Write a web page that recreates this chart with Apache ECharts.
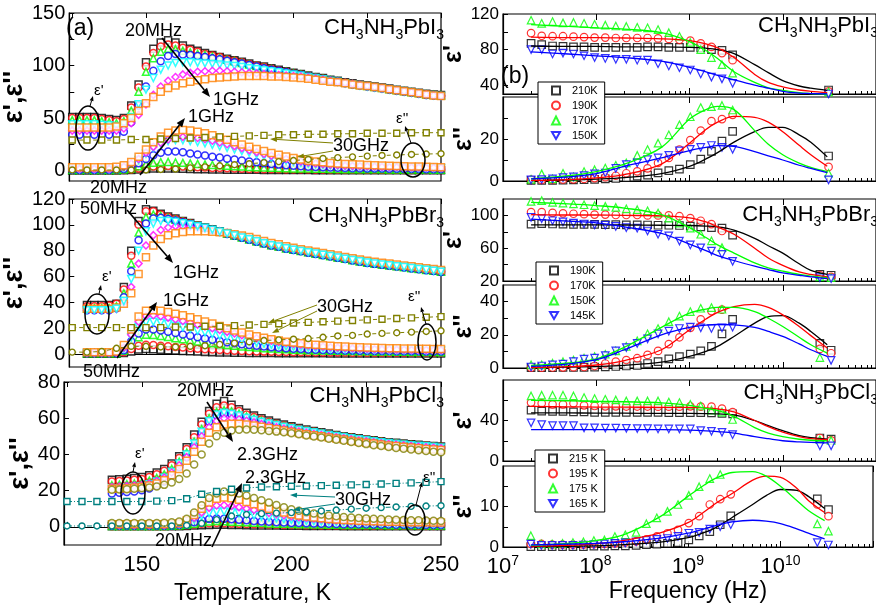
<!DOCTYPE html>
<html><head><meta charset="utf-8">
<script src="https://cdn.jsdelivr.net/npm/echarts@6/dist/echarts.min.js"></script>
<style>html,body{margin:0;padding:0;background:#fff}#c{width:876px;height:606px}</style>
</head><body><div id="c"></div>
<script>
// ---------------- DATA ----------------
// (a) temperature panels
const T_I = [125,127.5,130,132.5,135,137.5,140,142.5,145,147.5,150,152.5,155,157.5,160,162.5,165,167.5,170,172.5,175,177.5,180,182.5,185,187.5,190,192.5,195,197.5,200,202.5,205,207.5,210,212.5,215,217.5,220,222.5,225,227.5,230,232.5,235,237.5,240,242.5,245,247.5,250];
const T_B = [130,132.5,135,137.5,140,142.5,145,147.5,150,152.5,155,157.5,160,162.5,165,167.5,170,172.5,175,177.5,180,182.5,185,187.5,190,192.5,195,197.5,200,202.5,205,207.5,210,212.5,215,217.5,220,222.5,225,227.5,230,232.5,235,237.5,240,242.5,245,247.5,250];
const T_C = [140,142.5,145,147.5,150,152.5,155,157.5,160,162.5,165,167.5,170,172.5,175,177.5,180,182.5,185,187.5,190,192.5,195,197.5,200,202.5,205,207.5,210,212.5,215,217.5,220,222.5,225,227.5,230,232.5,235,237.5,240,242.5,245,247.5,250];
const T_30 = [125,130,135,140,145,150,155,160,165,170,175,180,185,190,195,200,205,210,215,220,225,230,235,240,245,250];

// PbI3 eps'
const I1_k = [51,51,51,51,50,49, 48,50,62,82,103, 116,122,124,122,119, 116,114,112,110,108, 106.5,105,103.5,102,100, 99,97.5,96,94.5,93, 92,90.5,89,88,86.5, 85.5,84,83,82,81, 80,79,78,77,76, 75,74,73,72.5,72];
const I1_r = [50,50,50,50,49,48, 47,49,60,79,99, 112,118,120,119,117, 115,113,111,109.5,108, 106,104.5,103,101.5,100, 98.5,97,95.5,94,92.5, 91.5,90,88.5,87.5,86, 85,83.5,82.5,81.5,80.5, 79.5,78.5,77.5,76.5,75.5, 74.5,73.5,72.5,72,71.5];
const I1_g = [48,48,48,48,47,46, 45,47,57,75,94, 107,113,116,115.5,114, 112.5,111,110,108.5,107, 105.5,104,102.5,101,99.5, 98,96.5,95,94,92.5, 91.5,90,88.5,87.5,86, 85,83.5,82.5,81.5,80.5, 79.5,78.5,77.5,76.5,75.5, 74.5,73.5,72.5,72,71.5];
const I1_b = [34,34,34,34,34,34, 34,37,46,62,80, 95,104,109,111,110.5, 110,109,108,107,106, 104.5,103,102,100.5,99, 97.5,96,95,93.5,92, 91,89.5,88,87,85.5, 84.5,83,82,81,80, 79,78,77,76,75, 74,73,72,71.5,71];
const I1_c = [44,44,44,44,43.5,43, 42.5,44,51,63,77, 88,96,100,102.5,103, 103,102.5,102,101.5,101, 100,99.5,98.5,97.5,96.5, 95.5,94.5,93.5,92.5,91.5, 90.5,89,88,87,85.5, 84.5,83,82,81,80, 79,78,77,76,75, 74,73,72,71.5,71];
const I1_m = [38,38,38,38,38,38, 38,40,45,53,63, 72,80,85.5,89,91.5, 93,94,94.5,95,95, 94.5,94,93.5,93,92.5, 92,91.5,91,90.5,90, 89.5,88.5,87.5,86.5,85.5, 84.5,83.5,82.5,81.5,80.5, 79.5,78.5,77.5,76.5,75.5, 74.5,73.5,72.5,71.5,71];
const I1_o = [41,41,41,41,41,41, 42,45,50,57,64, 70,75,78.5,81,83, 84.5,86,87,88,88.5, 89,89.5,90,90,90, 90,89.5,89.5,89,88.5, 88,87.5,86.5,85.5,84.5, 84,83,82,81,80.5, 79.5,78.5,77.5,76.5,75.5, 74.5,73.5,72.5,71.5,71];
// PbI3 eps''
const I2_k = [0,0,0,0,0,0, 0,0.2,0.5,1,1.5, 2,2,2,1.8,1.6, 1.4,1.2,1.1,1,0.9, 0.8,0.7,0.7,0.6,0.6, 0.5,0.5,0.5,0.4,0.4, 0.4,0.4,0.3,0.3,0.3, 0.3,0.3,0.3,0.2,0.2, 0.2,0.2,0.2,0.2,0.2, 0.2,0.2,0.2,0.2,0.2];
const I2_r = [0.3,0.3,0.3,0.3,0.3,0.3, 0.3,0.5,1,2,3, 3.8,4.2,4.3,4,3.7, 3.4,3.1,2.8,2.5,2.3, 2.1,1.9,1.7,1.5,1.4, 1.3,1.2,1.1,1,1, 0.9,0.9,0.8,0.8,0.8, 0.7,0.7,0.7,0.7,0.6, 0.6,0.6,0.6,0.6,0.5, 0.5,0.5,0.5,0.5,0.5];
const I2_g = [0.5,0.5,0.5,0.5,0.5,0.5, 0.5,1,2,4,6, 7.3,8,8.2,7.8,7.3, 6.8,6.3,5.8,5.3,4.9, 4.5,4.1,3.7,3.4,3.1, 2.8,2.6,2.4,2.2,2, 1.9,1.8,1.7,1.6,1.5, 1.4,1.3,1.3,1.2,1.2, 1.1,1.1,1,1,1, 0.9,0.9,0.9,0.8,0.8];
const I2_b = [0.5,0.5,0.5,0.5,0.5,0.5, 0.7,1.5,3.5,7,11, 14.5,17,18,18,17.3, 16.3,15.2,14.2,13.2,12.3, 11.3,10.4,9.5,8.6,7.8, 7,6.3,5.6,5,4.5, 4,3.6,3.3,3,2.8, 2.6,2.4,2.2,2.1,2, 1.9,1.8,1.7,1.6,1.5, 1.4,1.4,1.3,1.3,1.2];
const I2_c = [1,1,1,1,1,1, 1.3,2.5,5,10,16, 21.5,25.5,28,29,28.8, 28,27,25.8,24.4,23, 21.5,20,18.4,16.8,15.2, 13.6,12.1,10.7,9.4,8.2, 7.2,6.4,5.7,5.1,4.6, 4.2,3.9,3.6,3.4,3.2, 3,2.8,2.7,2.6,2.5, 2.4,2.3,2.2,2.1,2];
const I2_m = [1.5,1.5,1.5,1.5,1.5,1.5, 2,3.5,6.5,11,17, 22.5,26.5,29.5,31.3,32, 31.8,31,29.8,28.3,26.7, 25,23.2,21.3,19.4,17.5, 15.7,14,12.4,11,9.7, 8.6,7.6,6.8,6.1,5.5, 5,4.6,4.3,4,3.8, 3.6,3.4,3.2,3.1,3, 2.9,2.8,2.7,2.6,2.5];
const I2_o = [3,3,3,3,3,3, 3.5,5,8,13,20, 27,32.5,36,38,38.5, 38,37,35.5,33.5,31.5, 29.3,27,24.8,22.6,20.5, 18.5,16.7,15,13.3,11.8, 10.5,9.4,8.5,7.8,7.2, 6.7,6.3,5.9,5.6,5.3, 5,4.7,4.5,4.3,4.1, 3.9,3.7,3.5,3.3,3.2];
const I30_1 = [29,29,29,29,29.5,29.5,30,30.5,31,31.5,32,32.5,33,33.5,34,34,34.5,34.5,35,35,35.5,35.5,35.5,36,36,36];
const I30_2 = [0.5,0.5,0.5,0.5,0.5,0.5,1,1.5,2.5,3.5,4.5,5.5,6.5,7.5,8.5,9.5,10.5,11.5,12.3,13,13.7,14.3,14.8,15.3,15.7,16];

// PbBr3 eps'
const B1_k = [38,38,38,38, 39,52,80,103,112, 111,108.5,106.5,105,103, 101.5,99.5,98,96.5,95, 93.5,92,90.5,89,87.5, 86,84.5,83.5,82,81, 80,79,78,77,76, 75,74,73,72,71, 70.3,69.6,68.9,68.2,67.5, 66.8,66.1,65.4,64.7,64];
const B1_r = [37,37,37,37.5, 39,50,76,100,110.5, 110.5,108,106,104.5,102.8, 101.2,99.3,97.8,96.3,94.8, 93.3,91.8,90.3,88.8,87.3, 85.8,84.3,83.3,81.8,80.8, 79.8,78.8,77.8,76.8,75.8, 74.8,73.8,72.8,71.8,70.8, 70.1,69.4,68.7,68,67.3, 66.6,65.9,65.2,64.5,63.8];
const B1_g = [35.5,35.5,35.5,35.5, 37,47,70,94,106, 108,107,105.5,104,102.5, 101,99.2,97.7,96.2,94.7, 93.2,91.7,90.2,88.7,87.2, 85.7,84.2,83.2,81.7,80.7, 79.7,78.7,77.7,76.7,75.7, 74.7,73.7,72.7,71.7,70.7, 70,69.3,68.6,67.9,67.2, 66.5,65.8,65.1,64.4,63.7];
const B1_b = [34,34,34,34, 35.5,44,64,88,101, 105,105.5,104.5,103.3,102, 100.7,99,97.5,96,94.5, 93,91.5,90,88.5,87, 85.5,84,83,81.5,80.5, 79.5,78.5,77.5,76.5,75.5, 74.5,73.5,72.5,71.5,70.5, 69.8,69.1,68.4,67.7,67, 66.3,65.6,64.9,64.2,63.5];
const B1_c = [34,34,34,34, 35,41,58,80,95, 101,103,103,102.3,101.3, 100.2,99,97.7,96.3,94.8, 93.3,91.8,90.3,88.8,87.3, 85.8,84.3,83.3,81.8,80.8, 79.8,78.8,77.8,76.8,75.8, 74.8,73.8,72.8,71.8,70.8, 70.1,69.4,68.7,68,67.3, 66.6,65.9,65.2,64.5,63.8];
const B1_m = [34,34,34,34, 35,40,52,70,84, 92,96,98,99,99, 98.5,97.8,97,96,95, 93.8,92.5,91,89.5,88, 86.5,85,84,82.5,81.5, 80.5,79.5,78.5,77.5,76.5, 75.5,74.5,73.5,72.5,71.5, 70.8,70.1,69.4,68.7,68, 67.3,66.6,65.9,65.2,64.5];
const B1_o = [35,35,35,35, 36,39,47,62,75, 84,89,92,93.5,94.5, 95,95,95,94.7,94.3, 93.6,92.8,91.7,90.5,89, 87.5,86,85,83.5,82.3, 81.2,80.2,79.2,78.2,77.2, 76.2,75.2,74.2,73.2,72.2, 71.4,70.7,70,69.3,68.6, 67.9,67.2,66.5,65.8,65.1];
// PbBr3 eps''
const B2_k = [0.3,0.3,0.3,0.3, 0.3,0.8,2,3.5,4, 3.8,3.4,3,2.7,2.4, 2.1,1.9,1.7,1.5,1.3, 1.2,1.1,1,0.9,0.9, 0.8,0.8,0.7,0.7,0.7, 0.6,0.6,0.6,0.6,0.5, 0.5,0.5,0.5,0.5,0.5, 0.4,0.4,0.4,0.4,0.4, 0.4,0.4,0.4,0.4,0.4];
const B2_r = [0.5,0.5,0.5,0.5, 0.5,1.5,4,6.5,7.3, 7,6.5,6,5.5,5, 4.6,4.2,3.8,3.5,3.2, 2.9,2.6,2.4,2.2,2, 1.9,1.8,1.7,1.6,1.5, 1.4,1.4,1.3,1.3,1.2, 1.2,1.2,1.1,1.1,1.1, 1.1,1,1,1,1, 1,1,1,1,1];
const B2_g = [0.6,0.6,0.6,0.6, 0.6,2.5,8,13,15, 14.8,14,13.2,12.3,11.4, 10.6,9.8,9,8.3,7.6, 7,6.4,5.9,5.4,5, 4.6,4.3,4,3.7,3.4, 3.2,3,2.8,2.7,2.6, 2.5,2.4,2.3,2.2,2.1, 2,1.9,1.9,1.8,1.8, 1.7,1.7,1.6,1.6,1.5];
const B2_b = [0.7,0.7,0.7,0.7, 0.7,3,10,16,19, 19,18.3,17.3,16.3,15.2, 14.1,13,12,11,10.1, 9.2,8.4,7.7,7,6.4, 5.8,5.3,4.9,4.5,4.2, 3.9,3.6,3.4,3.2,3, 2.9,2.8,2.7,2.6,2.5, 2.4,2.3,2.3,2.2,2.2, 2.1,2.1,2,2,2];
const B2_c = [0.8,0.8,0.8,0.8, 0.8,4,13,21,24.5, 25,24.3,23.2,22,20.7, 19.4,18,16.7,15.4,14.1, 12.9,11.8,10.7,9.7,8.8, 8,7.2,6.6,6,5.5, 5.1,4.7,4.4,4.1,3.9, 3.7,3.5,3.3,3.2,3.1, 3,2.9,2.8,2.8,2.7, 2.7,2.6,2.6,2.5,2.5];
const B2_m = [1,1,1,1, 1,5,15,25,29.5, 30,29.3,28.2,27,25.6, 24.2,22.8,21.4,20,18.6, 17.2,15.9,14.6,13.4,12.3, 11.3,10.3,9.4,8.6,7.9, 7.3,6.7,6.2,5.8,5.4, 5,4.7,4.4,4.2,4, 3.8,3.6,3.5,3.4,3.3, 3.2,3.1,3.1,3,3];
const B2_o = [1.5,1.5,1.5,1.5, 2,7,19,29,33.5, 34,33.5,32.5,31.3,30, 28.5,27,25.3,23.6,21.8, 20,18.3,16.7,15.2,13.8, 12.6,11.5,10.5,9.6,8.9, 8.3,7.7,7.2,6.8,6.4, 6.1,5.8,5.5,5.3,5.1, 4.9,4.7,4.6,4.5,4.4, 4.3,4.2,4.1,4,3.9];
const B30_1 = [20.5,20.5,20.5,20.5,20.5,20.5,20.5,21,21,21.5,21.5,22,22.5,23,23.5,24,24.5,25,25.5,26,26.5,27,27.5,28,28.5,29];
const B30_2 = [1.5,1.5,2,4.5,6,6,5.5,5.5,6,6.5,7.5,8.5,9.5,10.5,11,11.5,12,13,14,14.5,15.5,16,16.5,17,17.5,18];

// PbCl3 eps'
const C1_k = [26,26.3,26.6,27,27.5, 28.5,30,32,35,39, 44,51,58,64,68, 69.5,67.5,65,63,61.5, 60,58.7,57.5,56.5,55.5, 54.6,53.8,53,52.2,51.5, 50.8,50.1,49.5,48.9,48.3, 47.8,47.3,46.8,46.4,46, 45.6,45.3,45,44.7,44.4];
const C1_r = [25,25.3,25.6,26,26.5, 27.5,29,31,34,38, 43,49.5,56.5,62.5,66, 67,66,64,62,60.7, 59.3,58,57,56,55, 54.2,53.4,52.6,51.9,51.2, 50.5,49.9,49.3,48.7,48.1, 47.6,47.1,46.6,46.2,45.8, 45.4,45.1,44.8,44.5,44.2];
const C1_g = [23,23.3,23.6,24,24.5, 25.5,27,29,32,36, 41,47,54,60,63.5, 64.5,63.8,62.5,61,59.8, 58.6,57.5,56.5,55.5,54.6, 53.8,53,52.3,51.6,50.9, 50.3,49.7,49.1,48.5,47.9, 47.4,46.9,46.4,46,45.6, 45.2,44.9,44.6,44.3,44];
const C1_b = [18.5,18.8,19.2,19.6,20.2, 21.2,22.7,25,28.5,33, 38.5,45,52,58,61.5, 62.5,62,61,59.8,58.7, 57.6,56.6,55.7,54.8,54, 53.2,52.5,51.8,51.1,50.4, 49.8,49.2,48.6,48,47.4, 46.9,46.4,45.9,45.5,45.1, 44.7,44.4,44.1,43.8,43.5];
const C1_c = [21,21.3,21.6,22,22.5, 23.5,25,27.3,30.5,35, 40,46,52.5,58.5,62, 63,62.5,61.5,60.3,59.2, 58.1,57.1,56.2,55.3,54.4, 53.6,52.9,52.2,51.5,50.8, 50.2,49.6,49,48.4,47.8, 47.3,46.8,46.3,45.9,45.5, 45.1,44.8,44.5,44.2,43.9];
const C1_m = [22,22.2,22.5,22.8,23.2, 24,25.3,27.2,30,34, 38.5,44,50,55,58.5, 60,60,59.4,58.6,57.7, 56.8,55.9,55,54.2,53.4, 52.7,52,51.3,50.7,50.1, 49.5,48.9,48.3,47.7,47.2, 46.7,46.2,45.8,45.4,45, 44.6,44.3,44,43.7,43.4];
const C1_o = [21,21.2,21.4,21.7,22.1, 22.8,24,25.8,28.5,32, 36.5,41.5,47,52,55, 56.5,57,57,56.6,56, 55.3,54.6,53.9,53.2,52.5, 51.8,51.2,50.6,50,49.4, 48.8,48.2,47.6,47,46.5, 46,45.5,45,44.6,44.2, 43.8,43.4,43,42.7,42.4];
const C1_ol = [20.5,20.6,20.8,21,21.3, 21.7,22.3,23.2,24.5,26.5, 29.5,34.5,40,46,50, 52,53.2,53.7,53.8,53.6, 53.3,53,52.6,52.2,51.7, 51.1,50.5,49.9,49.3,48.7, 48.1,47.5,46.9,46.3,45.7, 45.1,44.6,44.1,43.6,43.1, 42.7,42.3,41.9,41.5,41.2];
// PbCl3 eps''
const C2_k = [0.3,0.3,0.3,0.3,0.3, 0.3,0.3,0.3,0.3,0.4, 0.5,0.7,0.9,1.1,1.2, 1.2,1.1,1,0.9,0.8, 0.8,0.7,0.7,0.6,0.6, 0.6,0.5,0.5,0.5,0.5, 0.5,0.4,0.4,0.4,0.4, 0.4,0.4,0.4,0.4,0.4, 0.4,0.4,0.4,0.4,0.4];
const C2_r = [0.4,0.4,0.4,0.4,0.4, 0.4,0.4,0.4,0.5,0.6, 0.9,1.3,1.7,2,2.1, 2,1.9,1.7,1.6,1.5, 1.4,1.3,1.2,1.1,1, 1,0.9,0.9,0.8,0.8, 0.8,0.7,0.7,0.7,0.7, 0.6,0.6,0.6,0.6,0.6, 0.6,0.6,0.5,0.5,0.5];
const C2_g = [0.5,0.5,0.5,0.5,0.5, 0.5,0.5,0.5,0.6,0.8, 1.2,1.8,2.5,3,3.2, 3.1,2.9,2.7,2.5,2.3, 2.1,1.9,1.8,1.7,1.6, 1.5,1.4,1.3,1.3,1.2, 1.2,1.1,1.1,1,1, 1,1,0.9,0.9,0.9, 0.9,0.9,0.8,0.8,0.8];
const C2_b = [0.6,0.6,0.6,0.6,0.6, 0.6,0.6,0.6,0.7,1, 1.6,2.6,3.6,4.3,4.6, 4.5,4.2,3.9,3.6,3.3, 3,2.8,2.6,2.4,2.2, 2.1,2,1.9,1.8,1.7, 1.6,1.5,1.5,1.4,1.4, 1.3,1.3,1.3,1.2,1.2, 1.2,1.2,1.1,1.1,1.1];
const C2_c = [0.8,0.8,0.8,0.8,0.8, 0.8,0.8,0.8,0.9,1.3, 2.3,4,6,7.6,8.4, 8.5,8.1,7.5,6.9,6.3, 5.7,5.2,4.7,4.3,3.9, 3.6,3.3,3.1,2.9,2.7, 2.5,2.4,2.3,2.2,2.1, 2,1.9,1.9,1.8,1.8, 1.7,1.7,1.7,1.6,1.6];
const C2_m = [1,1,1,1,1, 1,1,1,1.1,1.6, 2.8,5,8,10.5,11.8, 12,11.6,10.9,10.1,9.3, 8.5,7.7,7,6.4,5.8, 5.3,4.9,4.5,4.2,3.9, 3.6,3.4,3.2,3,2.9, 2.8,2.7,2.6,2.5,2.4, 2.3,2.3,2.2,2.2,2.1];
const C2_o = [1.5,1.5,1.5,1.5,1.5, 1.5,1.5,1.5,1.6,2, 3.5,6.5,10,13.5,15.5, 16.2,15.8,15,13.8,12.5, 11.2,10,8.9,7.9,7, 6.3,5.7,5.2,4.8,4.4, 4.1,3.8,3.6,3.4,3.2, 3.1,3,2.9,2.8,2.7, 2.6,2.5,2.5,2.4,2.4];
const C2_ol = [2.2,2.2,2.2,2.2,2.2, 2.2,2.2,2.3,2.5,3, 4.5,8,12,16,18.5, 19.5,19.3,18.5,17.3,16, 14.7,13.4,12.1,10.9,9.8, 8.9,8.1,7.4,6.8,6.3, 5.9,5.5,5.2,4.9,4.7, 4.5,4.3,4.1,3.9,3.8, 3.7,3.6,3.5,3.4,3.3];
const C30_1 = [14,14,14,14,14,14,14.2,14.5,15.5,18,19.5,20.8,21.5,22,22.2,22.4,22.6,22.8,23,23.2,23.4,23.7,24,24.3,24.6,25];
const C30_2 = [0.5,0.5,0.5,0.5,0.5,0.5,0.5,0.5,0.8,2,4,6,6.8,7.3,7.6,7.9,8.3,8.8,9.3,9.8,10.3,10.7,11,11.3,11.5,11.7];

// (b) frequency panels
const F_LOW = [2e7,2.6e7,3.4e7,4.4e7,5.7e7,7.4e7,9.6e7,1.25e8,1.62e8,2.1e8,2.75e8,3.55e8,4.6e8,6e8,7.8e8,1.02e9,1.32e9,1.72e9,2.23e9,2.9e9];
const F_HI_I = [3.1e10];
const F_HI = [2.5e10,3.3e10];
const F_FIT = [2e7,5e7,1e8,2e8,5e8,1e9,1.5e9,2e9,3e9,5e9,7e9,1e10,1.5e10,2e10,3e10];
const TEMPS_I = ['210K','190K','170K','150K'];
const TEMPS_B = ['190K','170K','150K','145K'];
const TEMPS_C = ['215 K','195 K','175 K','165 K'];

const RI1 = [[87,85.5,84,83.5,83,83,82.5,82.5,82.5,82.5,82.5,83,83,82.5,82.5,82.5,82,80,79,74,34.5],
             [98.5,95.5,95,95,94.5,94,93.5,93.5,93,93,93,93,92.5,92,91,90,87,83,76,68,33],
             [113,109.5,111.5,110,110.5,109.5,108.5,107.5,106.5,106,105,104.5,102.5,99,95,88,80,71,63,53.5,32.5],
             [80,80,75,76,75,73,71,70,69,69,68,68,64,61.5,59.5,57,52.5,49,47,42,30]];
const RI2 = [[0.3,0.3,0.3,0.4,0.5,0.6,0.8,1,1.2,1.6,2.3,2.8,3.9,4.9,5.7,7.8,10.4,14.1,19,23.6,11.9],
             [0.5,0.5,0.5,0.7,0.8,1,1.4,1.8,2.5,3.7,4.6,6,8.6,11,15,19.5,24,28.5,29.5,31.5,6.7],
             [0.8,3.4,1,3.7,2,4.5,5.4,6.2,7.5,8.6,12.2,15,18,22,26.8,30.6,35,35.4,36,33.8,3.7],
             [0.5,0.7,1,1.6,2,2.6,3.4,3.8,6,7.8,8.6,10.2,11,12.2,14.3,15.1,16,16.9,16,15.1,0.5]];
const RI1F = [[84,83.5,83.5,83,83,82.5,81.5,80,75.5,63,54,45,39,36.5,34],
              [94,93.5,93.5,93,92,90,86.5,82,71,52,43,38,34.5,33,31.5],
              [108,106,104.5,103,99,89,79,70,55,43,37,34,31.5,30.5,29.5],
              [77.5,75,73,71,67,60,55,51,46,40,36.5,33,31,30.5,30]];
const RI2F = [[0.2,0.5,0.9,1.6,3.5,7,10.5,13.5,18.5,23.5,25.5,25.5,22,18.5,11.5],
              [0.3,0.7,1.5,3,8,18,24.5,28,30.8,30.3,28,23.5,17,12.5,7],
              [1,2.5,4.5,8,16,29.5,34,35.5,34,24,17.5,12.5,8.5,6.5,4.5],
              [1,2,3.5,7,11,14.5,16,16.8,16.5,14,12,10,7.5,6,4]];

const RB1 = [[89.3,90,89.5,89.3,89,89,89,88.8,88.7,88.5,88.5,88.3,88,88,87.7,87,86,85,84.4,76,28,27],
             [104,104,103,102.5,102,101.5,101,101,100.5,100.5,100.5,100,100,100,99,96.7,93.5,89.4,81,null,27,25],
             [117,118,116,115,114,113,112,111,109.7,108,107,105.7,102.8,96.7,90.5,84.4,77,69,60.7,null,25,24],
             [97.5,96,93.5,92,90.5,89.5,88.5,88,86.5,85,84.4,81,77,75,68.7,64,60.5,56.5,52.5,44,24,23]];
const RB2 = [[0.2,0.2,0.2,0.3,0.3,0.4,0.5,0.7,0.9,1.2,1.5,2.7,3.8,5.5,6.9,8.3,10.3,13,20.6,29.3,14.8,10.7],
             [0.2,0.2,0.3,0.4,0.5,0.6,1.2,2.7,3.8,4.8,5.9,7.9,10.3,14.4,18.5,24.2,29.3,34.3,35.2,null,11.5,8.9],
             [1.9,1.9,2.9,3.8,4.8,5.9,6.9,8.3,10.3,13,16.4,20.6,23.8,27.9,31.3,34,36,36.4,35.4,null,6.3,null],
             [0.6,1.2,1.9,2.3,3.8,5.3,5.9,7.5,10.3,12.3,14.8,17.6,20.6,22.2,23.8,24.6,24.2,23.8,24.2,24.6,null,4.6]];
const RB1F = [[88.5,88.5,88.5,88.3,88,87.7,87,86,82,72,63,54,41,33,28],
              [101,100.5,100.5,100,99.5,97,92,86,77,60,48,39,31,28,25],
              [116,114,112,109,101,85,73,64,54,42,36,32,28,26,24],
              [95.5,93,91,86,78,65,57,51,45,38,34,30,27,25,23]];
const RB2F = [[0.2,0.5,0.9,1.6,3.5,7,10,13,19,27,31,31.5,27,22,14],
              [0.3,0.8,1.8,4.5,11,23,29.5,33.5,37,38.3,36.5,32,25,19.5,12],
              [1.5,3,5.5,12.5,24.5,33,35.5,36.5,36.5,34,30,25,18.5,14,9],
              [1,2.5,5,11,20,24.5,25.8,26.2,26,24.5,22,19,14.5,11,7]];

const RC1 = [[50.3,49.3,49,49,48.5,48.5,48,48,48,48,48,48,48,47.7,47.7,47.7,47.7,47.5,47,46.5,22.7,21.7],
             [57.7,57,56,56,57,55,54.3,54,54,53.8,53.8,53.8,53.7,53.7,53.7,54,53.7,53.7,51.7,48.3,22.7,20.3],
             [64.3,65,65,65,64.3,62.7,61.7,61,60.3,59.3,59.3,59.3,59.3,58.3,57.7,56,54.3,50.3,48.3,41,21,20.3],
             [37.7,36,35,35,35,32.7,32.7,32.5,32.5,32.3,32,32,31.7,31.7,31.7,31.7,30,29.3,28.3,26,15,15]];
const RC2 = [[0.1,0.1,0.1,0.1,0.1,0.1,0.2,0.2,0.3,0.3,0.4,0.6,0.7,0.9,1.1,1.75,2.75,3.8,5.5,7.7,11.9,9.25],
             [0.75,0.75,0.6,0.6,0.6,0.6,0.7,0.75,0.9,1.1,1.4,1.9,2.6,3.4,4.25,5.9,7.6,10.5,11.8,13,10.5,7.6],
             [2.8,0.75,0.75,0.9,1.1,1.3,1.6,1.75,2.6,3,3.6,5.75,7.2,8.8,10.5,12.75,14.9,16.9,17.9,null,5.7,3.9],
             [0.7,0.4,0.4,0.4,0.4,0.5,0.6,0.75,0.9,1,1.3,1.6,1.9,2.1,2.6,3.4,3.6,4.4,5,5.5,1.1,0.5]];
const RC1F = [[47.5,47.5,47.3,47.2,47,47,46.8,46.5,45.5,40,35,30,25,23,21.5],
              [54,53.5,53.3,53.2,53,53,52.5,51.5,48.5,40,34,28.5,24,22,21],
              [60,59.5,59,58.5,57.5,55,52,50,44,33,27.5,24,21.5,20.5,20],
              [31,31,31,31,31,30.5,29.8,29,27.5,24,22,20,18.8,18.3,18]];
const RC2F = [[0.1,0.15,0.3,0.6,1.2,2.3,3.6,4.8,7.3,10.5,12.7,14.2,14,12.5,9.5],
              [0.2,0.4,0.8,1.6,3.5,6,8.7,10.8,13.2,16.5,17.5,17.2,14.5,11.5,8.5],
              [0.4,0.9,1.6,3,7.5,12.5,15.3,17,18.4,18.6,17.5,15,11.5,9,6.5],
              [0.5,0.7,0.9,1.3,2.2,3.4,4.5,5.3,6.2,6.6,6.4,5.8,4.5,3.4,2]];

// axis tick / label values
const L_XTICKS = [125,150,175,200,225,250];
const L_XLABELS = [150,200,250];
const R_XMINOR = [2e7,3e7,4e7,5e7,6e7,7e7,8e7,9e7,2e8,3e8,4e8,5e8,6e8,7e8,8e8,9e8,2e9,3e9,4e9,5e9,6e9,7e9,8e9,9e9,2e10,3e10,4e10,5e10,6e10,7e10,8e10,9e10];

// ---------------- CHART ----------------
const FONT = 'Liberation Sans, Arial, sans-serif';
const COL = {k:'#000000', r:'#ff0000', g:'#00ff00', b:'#0000ff', c:'#00ffff', m:'#ff00ff', o:'#ff8000', ol:'#808000', t:'#008080'};
const SYM = {k:['rect',0], r:['circle',0], g:['triangle',0], b:['circle',0], c:['triangle',180], m:['diamond',0], o:['rect',0], ol:['circle',0]};
const RSYM = [['rect',0,'k'],['circle',0,'r'],['triangle',0,'g'],['triangle',180,'b']];
const DOWN_TRI = 'path://M0,0L10,0L5,8.66Z';

const grids = [
  {left:64, top:13, width:377, height:168},
  {left:64, top:199, width:377, height:168},
  {left:64, top:382, width:377, height:166},
  {left:503, top:14, width:373, height:80},
  {left:503, top:97, width:373, height:84},
  {left:503, top:199, width:373, height:82},
  {left:503, top:285, width:373, height:83},
  {left:503, top:380, width:373, height:81},
  {left:503, top:466, width:373, height:81}
].map(g => Object.assign(g, {show:true, borderColor:'#000', borderWidth:1.2, backgroundColor:'transparent'}));

const xAxes = [], yAxes = [];
const XB = [];
const tickStyle = {lineStyle:{color:'#000', width:1}};
function addX(gi, isLog, showLabel, name){
  const base = isLog ? {type:'log', logBase:10, min:1e7, max:1e11} : {type:'value', min:124, max:250};
  XB[gi] = xAxes.length;
  const lbl = isLog ? {
      show:showLabel, margin:7, color:'#000', fontFamily:FONT,
      formatter: v => { const e = Math.round(Math.log10(v)); return e > 10 ? '' : '{b|10}{s|' + e + '}'; },
      rich:{b:{fontSize:22, fontFamily:FONT, color:'#000'}, s:{fontSize:14, fontFamily:FONT, color:'#000', verticalAlign:'bottom', padding:[0,0,12,0]}}
    } : {show:showLabel, customValues:L_XLABELS, fontSize:22, margin:9, color:'#000', fontFamily:FONT};
  xAxes.push(Object.assign({}, base, {
    gridIndex:gi, position:'bottom', axisLine:{show:true, lineStyle:{color:'#000', width:1.2}},
    splitLine:{show:false},
    axisTick: isLog ? Object.assign({inside:true, length:6}, tickStyle) : Object.assign({inside:true, length:5, customValues:L_XTICKS}, tickStyle),
    axisLabel: lbl,
    name: name || '', nameLocation:'middle', nameGap: isLog ? 33 : 37,
    nameTextStyle:{fontSize:23, fontFamily:FONT, color:'#000'}
  }));
  xAxes.push(Object.assign({}, base, {
    gridIndex:gi, position:'top', axisLine:{show:false}, splitLine:{show:false}, axisLabel:{show:false},
    axisTick: isLog ? Object.assign({inside:true, length:6}, tickStyle) : Object.assign({inside:true, length:5, customValues:L_XTICKS}, tickStyle)
  }));
  if (isLog) {
    xAxes.push(Object.assign({}, base, {
      gridIndex:gi, position:'bottom', axisLine:{show:false}, splitLine:{show:false}, axisLabel:{show:false},
      axisTick: Object.assign({inside:true, length:3, customValues:R_XMINOR}, tickStyle)
    }));
  }
}
function addY(gi, min, max, labels, ticks, name, fs, nameGap){
  yAxes.push({
    type:'value', gridIndex:gi, min, max, axisLine:{show:true, lineStyle:{color:'#000', width:1.2}}, splitLine:{show:false},
    axisTick: Object.assign({inside:true, length:5, customValues:ticks}, tickStyle),
    axisLabel:{customValues:labels, fontSize:fs, margin:4, color:'#000', fontFamily:FONT},
    name, nameLocation:'middle', nameRotate:90, nameGap,
    nameTextStyle:{fontSize: fs === 20 ? 27 : 25, fontWeight:'bold', fontFamily:FONT, color:'#000'}
  });
}
addX(0,false,false); addX(1,false,false); addX(2,false,true,'Temperature, K');
for (let g=3; g<9; g++) addX(g, true, g===8, g===8 ? 'Frequency (Hz)' : '');
const EN = "\u03b5',\u03b5''";
addY(0,-10,150,[0,50,100,150],[0,25,50,75,100,125,150],EN,20,30);
addY(1,-10,120,[0,20,40,60,80,100,120],[0,20,40,60,80,100,120],EN,20,30);
addY(2,-10,80,[0,20,40,60,80],[0,20,40,60,80],EN,20,30);
addY(3,30,120,[40,80,120],[40,60,80,100,120],"\u03b5'",17,22);
addY(4,0,40,[0,20],[0,10,20,30],"\u03b5''",17,22);
addY(5,20,120,[20,60,100],[20,40,60,80,100],"\u03b5'",17,22);
addY(6,0,50,[0,20,40],[0,10,20,30,40],"\u03b5''",17,22);
addY(7,0,80,[0,40],[0,20,40,60],"\u03b5'",17,22);
addY(8,0,20,[0,10],[0,5,10,15],"\u03b5''",17,22);

const series = [];
function pairs(xs, ys){ const d=[]; for (let k=0;k<xs.length;k++){ if (ys[k]!=null) d.push([xs[k], ys[k]]); } return d; }
function scat(gi, xs, ys, color, sym, rot, size, bw, name){
  series.push({type:'scatter', name:name, xAxisIndex:XB[gi], yAxisIndex:gi, data:pairs(xs,ys),
    symbol:sym, symbolRotate:rot, symbolSize:size, silent:true,
    itemStyle:{color:'#fff', borderColor:color, borderWidth:bw}});
}
function fit(gi, xs, ys, color){
  series.push({type:'line', xAxisIndex:XB[gi], yAxisIndex:gi, data:pairs(xs,ys), symbol:'none', smooth:0.35, silent:true,
    lineStyle:{color:color, width:1.3}});
}
function hf(gi, xs, ys, color, sym, dash){
  series.push({type:'line', xAxisIndex:XB[gi], yAxisIndex:gi, data:pairs(xs,ys), symbol:sym, symbolSize:6, showSymbol:true, showAllSymbol:true, silent:true,
    itemStyle:{color:'#fff', borderColor:color, borderWidth:1.4}, lineStyle:{color:color, width:1, type:dash}, z:3});
}
function tempPanel(gi, T, sets){
  sets.forEach(s => scat(gi, T, s[1], COL[s[0]], SYM[s[0]][0], SYM[s[0]][1], 7, 1.5));
}
tempPanel(0, T_I, [['k',I1_k],['r',I1_r],['g',I1_g],['b',I1_b],['c',I1_c],['m',I1_m],['o',I1_o]]);
tempPanel(0, T_I, [['k',I2_k],['r',I2_r],['g',I2_g],['b',I2_b],['c',I2_c],['m',I2_m],['o',I2_o]]);
hf(0, T_30, I30_1, COL.ol, 'rect', [4,3]);
hf(0, T_30, I30_2, COL.ol, 'circle', [4,3]);
tempPanel(1, T_B, [['k',B1_k],['r',B1_r],['g',B1_g],['b',B1_b],['m',B1_m],['o',B1_o],['c',B1_c]]);
tempPanel(1, T_B, [['k',B2_k],['r',B2_r],['g',B2_g],['b',B2_b],['c',B2_c],['m',B2_m],['o',B2_o]]);
hf(1, T_30, B30_1, COL.ol, 'rect', [4,3]);
hf(1, T_30, B30_2, COL.ol, 'circle', [4,3]);
tempPanel(2, T_C, [['k',C1_k],['r',C1_r],['g',C1_g],['b',C1_b],['c',C1_c],['m',C1_m],['o',C1_o],['ol',C1_ol]]);
tempPanel(2, T_C, [['k',C2_k],['r',C2_r],['g',C2_g],['b',C2_b],['c',C2_c],['m',C2_m],['o',C2_o],['ol',C2_ol]]);
hf(2, T_30, C30_1, COL.t, 'rect', [5,2,1,2]);
hf(2, T_30, C30_2, COL.t, 'circle', [5,2,1,2]);

function freqPanels(g1, g2, prefix, temps, hi, M1, M2, F1, F2){
  const xs = F_LOW.concat(hi);
  for (let j=0;j<4;j++){
    const c = COL[RSYM[j][2]];
    fit(g1, F_FIT, F1[j], c);
    fit(g2, F_FIT, F2[j], c);
  }
  for (let j=0;j<4;j++){
    const c = COL[RSYM[j][2]];
    scat(g1, xs, M1[j], c, RSYM[j][0], RSYM[j][1], 7.5, 1.2, prefix + temps[j]);
    scat(g2, xs, M2[j], c, RSYM[j][0], RSYM[j][1], 7.5, 1.2, prefix + temps[j]);
  }
}
freqPanels(3, 4, 'a:', TEMPS_I, F_HI_I, RI1, RI2, RI1F, RI2F);
freqPanels(5, 6, 'b:', TEMPS_B, F_HI, RB1, RB2, RB1F, RB2F);
freqPanels(7, 8, 'c:', TEMPS_C, F_HI, RC1, RC2, RC1F, RC2F);

function legendAt(left, top, prefix, temps){
  const data = temps.map((t, j) => j === 3 ? {name: prefix + t, icon: DOWN_TRI} : {name: prefix + t});
  return {data, left, top, orient:'vertical', selectedMode:false,
    formatter: n => n.substring(2), itemWidth:8, itemHeight:8, itemGap:4, padding:[3,7,3,13],
    backgroundColor:'#fff', borderColor:'#000', borderWidth:1, z:20,
    textStyle:{fontSize:11, fontFamily:FONT, color:'#000', padding:[0,0,0,7]}};
}

// ---------------- ANNOTATIONS ----------------
const G = [];
function txt(x, y, s, size){ G.push({type:'text', x, y, z:100, style:{text:s, fontSize:size, fontFamily:FONT, fill:'#000', align:'left', verticalAlign:'middle'}}); }
function formula(xRight, y, parts){
  G.push({type:'text', x:xRight, y, z:100, style:{text:parts, fontSize:22, fontFamily:FONT, fill:'#000', align:'right', verticalAlign:'middle',
    rich:{n:{fontSize:22, fontFamily:FONT, fill:'#000'}, s:{fontSize:14, fontFamily:FONT, fill:'#000', verticalAlign:'top', padding:[14,0,0,0]}}}});
}
function arrow(x1,y1,x2,y2,color,w,L,W){
  const a = Math.atan2(y2-y1, x2-x1);
  const bx = x2 - L*Math.cos(a), by = y2 - L*Math.sin(a);
  const px = -Math.sin(a)*W, py = Math.cos(a)*W;
  G.push({type:'line', z:100, shape:{x1, y1, x2:bx, y2:by}, style:{stroke:color, lineWidth:w}});
  G.push({type:'polygon', z:100, shape:{points:[[x2,y2],[bx+px,by+py],[bx-px,by-py]]}, style:{fill:color}});
}
function ell(cx,cy,rx,ry){ G.push({type:'ellipse', z:100, shape:{cx,cy,rx,ry}, style:{fill:null, stroke:'#000', lineWidth:1.5}}); }

// panel (a) PbI3
txt(66, 29, '(a)', 23);
formula(444, 28, '{n|CH}{s|3}{n|NH}{s|3}{n|PbI}{s|3}');
txt(125, 31, '20MHz', 18);
arrow(162, 38, 210, 97, '#000', 1.6, 9, 3.5);
txt(213, 100, '1GHz', 18);
ell(88, 128, 12, 22);
txt(94, 91, "\u03b5'", 15);
arrow(90, 106, 93, 96, '#000', 1, 5, 2);
txt(188, 117, '1GHz', 18);
arrow(140, 175, 185, 118, '#000', 1.6, 9, 3.5);
txt(90, 188, '20MHz', 18);
txt(333, 146, '30GHz', 18);
arrow(333, 143, 270, 139, COL.ol, 1, 7, 2.5);
arrow(333, 151, 297, 157, COL.ol, 1, 7, 2.5);
txt(396, 119, "\u03b5''", 15);
ell(413, 160, 12, 17);
arrow(411, 143, 405, 126, '#000', 1, 5, 2);
// PbBr3
formula(444, 216, '{n|CH}{s|3}{n|NH}{s|3}{n|PbBr}{s|3}');
txt(80, 209, '50MHz', 18);
arrow(127, 210, 173, 263, '#000', 1.6, 9, 3.5);
txt(173, 273, '1GHz', 18);
ell(97, 314, 12, 20);
txt(102, 277, "\u03b5'", 15);
arrow(99, 294, 101, 285, '#000', 1, 5, 2);
txt(163, 301, '1GHz', 18);
arrow(117, 358, 157, 302, '#000', 1.6, 9, 3.5);
txt(83, 372, '50MHz', 18);
txt(317, 307, '30GHz', 18);
arrow(317, 305, 268, 323, COL.ol, 1, 7, 2.5);
arrow(317, 311, 272, 333, COL.ol, 1, 7, 2.5);
txt(408, 297, "\u03b5''", 15);
ell(427, 342, 9, 18);
arrow(426, 324, 421, 307, '#000', 1, 5, 2);
// PbCl3
formula(444, 396, '{n|CH}{s|3}{n|NH}{s|3}{n|PbCl}{s|3}');
txt(177, 391, '20MHz', 18);
arrow(207, 402, 233, 442, '#000', 1.6, 9, 3.5);
txt(237, 455, '2.3GHz', 18);
ell(133, 493, 12, 21);
txt(135, 454, "\u03b5'", 15);
arrow(133, 472, 135, 462, '#000', 1, 5, 2);
txt(245, 478, '2.3GHz', 18);
arrow(212, 547, 242, 483, '#000', 1.6, 9, 3.5);
txt(155, 541, '20MHz', 18);
txt(335, 500, '30GHz', 18);
arrow(335, 497, 290, 495, COL.t, 1, 7, 2.5);
arrow(335, 504, 293, 510, COL.t, 1, 7, 2.5);
txt(423, 478, "\u03b5''", 15);
ell(415, 520, 10, 15);
arrow(416, 505, 422, 482, '#000', 1, 5, 2);
// panel (b)
txt(501, 77, '(b)', 23);
formula(878, 26, '{n|CH}{s|3}{n|NH}{s|3}{n|PbI}{s|3}');
formula(878, 215, '{n|CH}{s|3}{n|NH}{s|3}{n|PbBr}{s|3}');
formula(878, 393, '{n|CH}{s|3}{n|NH}{s|3}{n|PbCl}{s|3}');

const chart = echarts.init(document.getElementById('c'), null, {renderer:'canvas'});
chart.setOption({
  animation:false,
  backgroundColor:'#fff',
  grid: grids, xAxis: xAxes, yAxis: yAxes, series: series,
  legend: [legendAt(538, 82, 'a:', TEMPS_I), legendAt(536, 262, 'b:', TEMPS_B), legendAt(535, 450, 'c:', TEMPS_C)],
  graphic: G
});
</script></body></html>
